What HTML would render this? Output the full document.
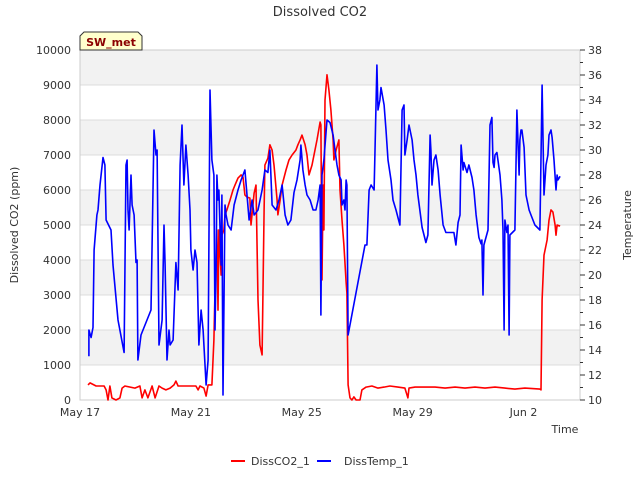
<!DOCTYPE html>
<html><head><meta charset="utf-8"><style>
body{margin:0;background:#fff;font-family:"Liberation Sans","DejaVu Sans",sans-serif;}
svg text{font-family:"DejaVu Sans","Liberation Sans",sans-serif;}
</style></head><body>
<svg id="chart" width="640" height="480" viewBox="0 0 640 480" xmlns="http://www.w3.org/2000/svg">
<text x="320" y="16" text-anchor="middle" font-size="13" fill="#333">Dissolved CO2</text>
<g id="bands"></g><g id="grid"></g>
<rect x="80" y="50" width="500" height="350" fill="none" stroke="#ccc"/>
<g id="leftTicks"></g><g id="rightTicks"></g><g id="xTicks"></g>
<g id="series"></g>
<text transform="translate(18,225) rotate(-90)" text-anchor="middle" font-size="11" fill="#333">Dissolved CO2 (ppm)</text>
<text transform="translate(631,225) rotate(-90)" text-anchor="middle" font-size="11" fill="#333">Temperature</text>
<text x="565" y="433" text-anchor="middle" font-size="11" fill="#333">Time</text>
<g><path d="M84,32 H138 L142,36 V50 H80 V36 Z" fill="#ffffcc" stroke="#333"/><text x="111" y="46" text-anchor="middle" font-size="11" font-weight="bold" fill="#8b0000">SW_met</text></g>
<g><line x1="231" y1="461" x2="245" y2="461" stroke="red" stroke-width="2"/><text x="251" y="465" font-size="11" fill="#333">DissCO2_1</text></g>
<g><line x1="317" y1="461" x2="331" y2="461" stroke="blue" stroke-width="2"/><text x="344" y="465" font-size="11" fill="#333">DissTemp_1</text></g>
</svg>
<script>
const xTickLabels=["May 17","May 21","May 25","May 29","Jun 2"];
const xTickDays=[0,4,8,12,16];
const leftTicks=[0,1000,2000,3000,4000,5000,6000,7000,8000,9000,10000];
const rightTicks=[10,12,14,16,18,20,22,24,26,28,30,32,34,36,38];
const co2Days=[0.29,0.36,0.58,0.87,0.94,1.01,1.08,1.15,1.30,1.44,1.52,1.62,1.98,2.16,2.24,2.34,2.45,2.60,2.71,2.85,2.96,3.10,3.25,3.39,3.46,3.54,3.79,4.18,4.26,4.33,4.47,4.55,4.62,4.76,4.83,4.87,4.94,4.98,5.01,5.09,5.12,5.19,5.23,5.30,5.41,5.52,5.59,5.70,5.81,5.88,5.95,6.02,6.13,6.17,6.28,6.35,6.42,6.49,6.57,6.64,6.67,6.78,6.85,6.93,7.00,7.11,7.14,7.22,7.29,7.43,7.54,7.65,7.79,7.86,7.94,8.01,8.12,8.19,8.26,8.37,8.44,8.55,8.66,8.69,8.73,8.77,8.80,8.84,8.91,8.98,9.05,9.13,9.16,9.24,9.34,9.38,9.45,9.52,9.60,9.63,9.67,9.74,9.81,9.88,9.96,10.10,10.17,10.32,10.53,10.75,10.97,11.18,11.47,11.72,11.83,11.87,12.09,12.45,12.81,13.17,13.53,13.89,14.25,14.61,14.97,15.33,15.69,16.05,16.59,16.63,16.67,16.74,16.85,16.92,16.99,17.06,17.14,17.17,17.21,17.32];
const co2Values=[430,490,400,400,290,0,400,60,0,60,340,400,340,400,60,290,60,400,60,400,340,290,340,430,540,400,400,400,290,400,340,110,430,430,1710,3140,4860,2570,4860,3570,4710,4860,5290,5430,5710,6000,6140,6340,6430,6370,5860,5800,5770,5000,5910,6140,2860,1570,1290,5430,6710,6910,7290,7140,6710,5710,5290,5710,6140,6570,6860,7000,7140,7290,7430,7570,7290,7000,6430,6710,7000,7430,7940,7860,3430,6140,4860,8570,9290,8860,8290,7430,6860,7140,7430,6000,5140,4430,3370,3060,430,60,0,90,0,0,290,370,400,340,370,400,370,340,60,340,370,370,370,340,370,340,370,340,370,340,310,340,310,290,2860,4140,4570,5140,5430,5370,5000,4710,5000,4970];
const tempDays=[0.32,0.32,0.40,0.47,0.51,0.61,0.65,0.72,0.83,0.90,0.94,1.12,1.19,1.37,1.59,1.66,1.70,1.73,1.77,1.84,1.88,1.95,2.02,2.06,2.09,2.20,2.56,2.67,2.74,2.78,2.85,2.96,3.03,3.07,3.14,3.21,3.25,3.36,3.46,3.54,3.61,3.68,3.75,3.82,3.90,3.97,4.00,4.08,4.15,4.22,4.29,4.37,4.44,4.55,4.62,4.69,4.76,4.83,4.87,4.91,4.94,4.98,5.01,5.09,5.12,5.16,5.23,5.27,5.34,5.45,5.56,5.70,5.81,5.95,6.10,6.21,6.28,6.42,6.57,6.67,6.78,6.85,6.93,7.07,7.18,7.29,7.40,7.50,7.61,7.72,7.83,7.94,7.97,8.04,8.12,8.19,8.30,8.41,8.51,8.59,8.66,8.69,8.73,8.80,8.91,9.02,9.13,9.20,9.27,9.34,9.42,9.45,9.52,9.56,9.60,9.63,9.67,10.28,10.35,10.43,10.50,10.61,10.64,10.71,10.75,10.82,10.86,10.97,11.04,11.11,11.22,11.29,11.40,11.54,11.62,11.69,11.72,11.80,11.87,11.98,12.05,12.12,12.19,12.34,12.48,12.55,12.63,12.66,12.70,12.77,12.84,12.92,12.99,13.10,13.20,13.35,13.49,13.56,13.64,13.71,13.75,13.82,13.85,13.96,14.03,14.14,14.21,14.29,14.39,14.47,14.50,14.54,14.57,14.72,14.79,14.86,14.90,14.94,14.97,15.04,15.15,15.22,15.26,15.30,15.33,15.40,15.44,15.48,15.51,15.69,15.73,15.76,15.84,15.87,15.91,15.94,16.02,16.09,16.20,16.27,16.41,16.59,16.67,16.74,16.81,16.88,16.92,16.99,17.03,17.10,17.17,17.21,17.24,17.32];
const tempValues=[13.5,15.6,15.0,15.8,22.0,24.8,25.2,27.2,29.4,28.8,24.4,23.6,20.8,16.4,13.8,28.8,29.2,25.2,23.6,28.0,25.6,24.8,21.0,21.2,13.2,15.2,17.2,31.6,29.6,30.0,14.4,16.4,24.0,20.8,13.2,15.6,14.4,14.8,21.0,18.8,28.8,32.0,27.2,30.4,28.0,25.2,22.0,20.4,22.0,21.0,14.4,17.2,15.6,11.2,13.2,34.8,29.2,28.0,15.6,20.4,28.0,26.0,26.8,20.8,26.4,10.4,25.6,24.8,24.0,23.6,25.6,26.8,27.6,28.4,24.4,26.0,24.8,25.2,26.8,28.4,28.2,30.0,25.6,25.2,26.0,27.2,24.8,24.0,24.4,26.6,27.6,29.2,30.4,28.4,27.2,26.4,26.0,25.2,25.2,26.0,27.2,16.8,28.0,29.2,32.4,32.2,31.2,30.0,28.8,28.0,27.6,25.6,26.0,25.2,27.6,27.2,15.2,22.4,22.4,26.8,27.2,26.8,29.6,36.8,33.2,34.0,35.0,33.6,31.6,29.2,27.6,26.0,25.2,24.0,33.2,33.6,29.6,30.8,32.0,30.8,29.2,28.0,26.4,23.8,22.6,23.2,31.2,30.0,27.2,29.2,29.6,28.4,26.4,24.0,23.4,23.4,23.4,22.4,24.2,24.8,30.4,28.4,29.0,28.2,28.8,27.8,26.8,24.8,23.0,22.5,22.8,18.4,22.4,23.6,32.0,32.6,29.0,28.6,29.6,29.8,28.0,26.0,23.6,15.6,24.4,23.4,24.0,15.2,23.2,23.6,28.8,33.2,28.0,30.8,31.6,31.6,30.2,26.4,25.2,24.8,24.0,23.6,35.2,26.4,28.8,29.6,31.2,31.6,31.0,29.2,26.8,28.0,27.6,27.9];

const NS="http://www.w3.org/2000/svg";
const L=80,R=580,T=50,B=400;
function xS(d){return L+d*27.72;}
function yL(v){return B-(v/10000)*(B-T);}
function yR(v){return B-((v-10)/28)*(B-T);}
function mk(tag,attrs,parent){const e=document.createElementNS(NS,tag);for(const k in attrs)e.setAttribute(k,attrs[k]);parent.appendChild(e);return e;}
const g=id=>document.getElementById(id);
for(let i=0;i<leftTicks.length-1;i++){
  if(i%2===1){const r=mk('rect',{x:L,y:yL(leftTicks[i+1]),width:R-L,height:yL(leftTicks[i])-yL(leftTicks[i+1]),fill:'#f2f2f2'},g('bands'));
  
  }
}
leftTicks.forEach(v=>{
  const ln=mk('line',{x1:L,x2:R,y1:yL(v),y2:yL(v),stroke:'#dcdcdc'},g('grid'));
  
  
  const t=mk('text',{x:L-9,y:yL(v)+4,'text-anchor':'end','font-size':11,fill:'#333'},g('leftTicks'));
  t.textContent=v;
  
  
});
for(let v=10;v<=38;v++){
  const tk=mk('line',{x1:R,x2:R+(v%2?3:5),y1:yR(v),y2:yR(v),stroke:'#333'},g('rightTicks'));
  
  
}
rightTicks.forEach(v=>{
  const t=mk('text',{x:R+8,y:yR(v)+4,'font-size':11,fill:'#333'},g('rightTicks'));
  t.textContent=v;
  
  
});
xTickDays.forEach((d,i)=>{
  const t=mk('text',{x:xS(d),y:416,'text-anchor':'middle','font-size':11,fill:'#333'},g('xTicks'));
  t.textContent=xTickLabels[i];
  
  
});
function line(days,vals,sc,color,name){
  const d=days.map((x,i)=>(i?'L':'M')+xS(x).toFixed(1)+','+sc(vals[i]).toFixed(1)).join('');
  const p=mk('path',{d:d,fill:'none',stroke:color,'stroke-width':1.6,'stroke-linejoin':'round'},g('series'));
  
  
}
line(co2Days,co2Values,yL,'red','co2-series-line');
line(tempDays,tempValues,yR,'blue','temp-series-line');
</script>
</body></html>
